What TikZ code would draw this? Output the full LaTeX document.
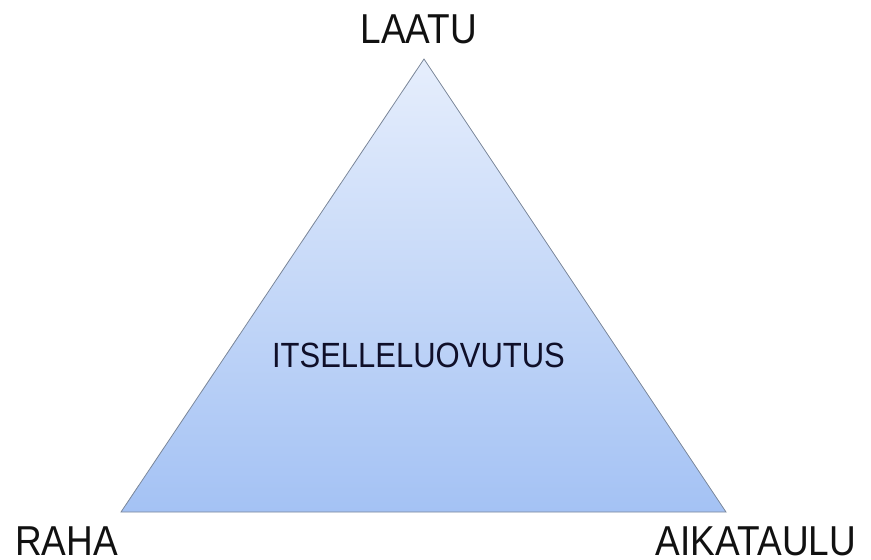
\documentclass[tikz,border=0pt]{standalone}
\usepackage{fontspec}
\setmainfont{Liberation Sans}
\definecolor{triTop}{HTML}{E6EEFC}
\definecolor{triBot}{HTML}{A4C2F4}
\definecolor{triEdge}{HTML}{7A8699}
\definecolor{txt}{HTML}{111111}
\tikzset{
  lbl/.style={inner sep=0pt, anchor=base, text=txt, font=\fontsize{37}{37}\selectfont},
  inlbl/.style={inner sep=0pt, anchor=base, text=txt!90!blue, font=\fontsize{31}{31}\selectfont},
}
\newcommand{\tall}[1]{\scalebox{1}[1.13]{#1}}
\begin{document}
\begin{tikzpicture}[x=1pt,y=-1pt]
\useasboundingbox (0,0) rectangle (871,560);
\coordinate (apex) at (424,59);
\coordinate (bl) at (121,512);
\coordinate (br) at (726,512);
\shade[top color=triTop, bottom color=triBot] (apex) -- (br) -- (bl) -- cycle;
\draw[triEdge, line width=0.8pt, line join=miter] (apex) -- (br) -- (bl) -- cycle;
\node[lbl] (laatu) at (419,43) {\tall{LAATU}};
\node[lbl] (raha) at (66.5,555.5) {\tall{RAHA}};
\node[lbl] (aika) at (756,555.5) {\tall{AIKATAULU}};
\node[inlbl] (its) at (418.5,367) {\tall{ITSELLELUOVUTUS}};
\end{tikzpicture}
\end{document}
